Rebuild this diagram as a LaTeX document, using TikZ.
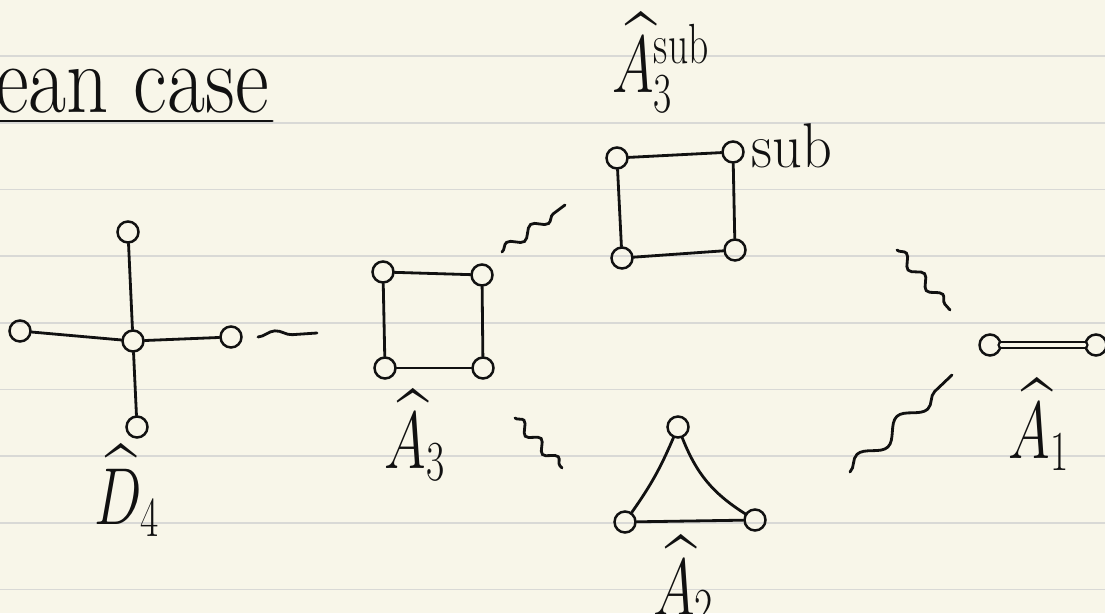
\RequirePackage{fix-cm}
\documentclass[tikz,border=0pt]{standalone}
\usepackage{amsmath}
\usepackage{amssymb}
\usepackage{tikz}
\usetikzlibrary{decorations.pathmorphing}
\definecolor{paper}{HTML}{F8F6E9}
\definecolor{ruling}{HTML}{D9D9D6}
\definecolor{ink}{HTML}{111111}

\begin{document}
\begin{tikzpicture}[auto, node distance=2cm, color=ink, line width=1.6pt, line cap=round]
        % Styles
        \tikzstyle{vertex} = [draw, circle, inner sep=0pt, minimum size=0.42cm, line width=1.4pt]
        \tikzstyle{wave} = [decorate, decoration={snake, segment length=0.6cm, amplitude=0.1cm}]
        \tikzstyle{hand} = [font=\fontsize{46}{50}\selectfont, xscale=0.7, inner sep=0pt]
        \tikzstyle{word} = [font=\fontsize{36}{40}\selectfont, xscale=0.92, inner sep=0pt]
        \tikzstyle{heading} = [font=\fontsize{56}{60}\selectfont, xscale=0.84, inner sep=0pt]

        % Paper
        \fill [paper] (0,0) rectangle (22.1,12.26);
        \useasboundingbox (0,0) rectangle (22.1,12.26);
        \foreach \k in {0,...,8}
            \draw [ruling, line width=1.1pt, line cap=butt] (0,0.47+1.3333*\k) -- (22.1,0.47+1.3333*\k);

        % Title
        \node [heading, anchor=base west] (title) at (-0.12,10.0) {ean case};
        \draw ([yshift=-0.16cm]title.base west) -- ([yshift=-0.16cm, xshift=0.05cm]title.base east);

        % D4
        \node [vertex] (d0) at (2.66,5.44) {};
        \node [vertex, above of=d0, node distance=2.18cm, xshift=-0.1cm] (d1) {};
        \node [vertex, left of=d0, node distance=2.26cm, yshift=0.2cm] (d2) {};
        \node [vertex, right of=d0, node distance=1.96cm, yshift=0.08cm] (d3) {};
        \node [vertex, below of=d0, node distance=1.72cm, xshift=0.08cm] (d4) {};
        \node [hand, below of=d4, node distance=1.28cm, xshift=-0.3cm] (dname) {$\widehat{D}_4$};

        % A3
        \node [vertex] (a1) at (7.66,6.82) {};
        \node [vertex, right of=a1, node distance=1.98cm, yshift=-0.06cm] (a2) {};
        \node [vertex, below of=a1, node distance=1.92cm, xshift=0.04cm] (a3) {};
        \node [vertex, right of=a3, node distance=1.96cm] (a4) {};
        \node [hand, below of=a3, node distance=1.35cm, xshift=0.85cm] (aname) {$\widehat{A}_3$};

        % A3 sub
        \node [vertex] (s1) at (12.34,9.10) {};
        \node [vertex, right of=s1, node distance=2.32cm, yshift=0.12cm] (s2) {};
        \node [vertex, below of=s1, node distance=2.0cm, xshift=0.1cm] (s3) {};
        \node [vertex, right of=s3, node distance=2.26cm, yshift=0.16cm] (s4) {};
        \node [word, right of=s2, node distance=1.28cm, yshift=0.12cm] (ssub) {sub};
        \node [hand, above of=s1, node distance=1.9cm, xshift=1.25cm] (sname) {$\widehat{A}_3^{\mathrm{sub}}$};

        % A2
        \node [vertex] (t0) at (13.56,3.72) {};
        \node [vertex, below of=t0, node distance=1.9cm, xshift=-1.06cm] (t1) {};
        \node [vertex, right of=t1, node distance=2.6cm, yshift=0.04cm] (t2) {};
        \node [hand, below of=t0, node distance=3.1cm, xshift=0.15cm] (tname) {$\widehat{A}_2$};

        % A1
        \node [vertex] (b1) at (19.80,5.36) {};
        \node [vertex, right of=b1, node distance=2.12cm] (b2) {};
        \node [hand, below of=b1, node distance=1.6cm, xshift=1.4cm] (bname) {$\widehat{A}_1$};

        % Edges
        \draw (d0) -- (d1);
        \draw (d0) -- (d2);
        \draw (d0) -- (d3);
        \draw (d0) -- (d4);

        \draw (a1) -- (a2);
        \draw (a2) -- (a4);
        \draw (a4) -- (a3);
        \draw (a3) -- (a1);

        \draw (s1) -- (s2);
        \draw (s2) -- (s4);
        \draw (s4) -- (s3);
        \draw (s3) -- (s1);

        \draw (t0) to [bend left=6] (t1);
        \draw (t0) to [bend right=18] (t2);
        \draw (t1) -- (t2);

        \draw [double=paper, double distance=2.2pt, line width=1.4pt] (b1) -- (b2);

        % Waves
        \coordinate (w1a) at (5.16,5.52);
        \coordinate (w1b) at (6.34,5.60);
        \coordinate (w2a) at (10.04,7.22);
        \coordinate (w2b) at (11.30,8.16);
        \coordinate (w3a) at (10.30,3.90);
        \coordinate (w3b) at (11.24,2.90);
        \coordinate (w4a) at (17.94,7.26);
        \coordinate (w4b) at (19.00,6.06);
        \coordinate (w5a) at (17.00,2.82);
        \coordinate (w5b) at (19.04,4.76);

        \draw [wave, decoration={segment length=1.1cm, amplitude=0.1cm}] (w1a) -- (w1b);
        \draw [wave] (w2a) -- (w2b);
        \draw [wave, decoration={segment length=0.5cm}] (w3a) -- (w3b);
        \draw [wave, decoration={segment length=0.55cm}] (w4a) -- (w4b);
        \draw [wave, decoration={segment length=1.1cm, amplitude=0.16cm}] (w5a) -- (w5b);
    \end{tikzpicture}
\end{document}
